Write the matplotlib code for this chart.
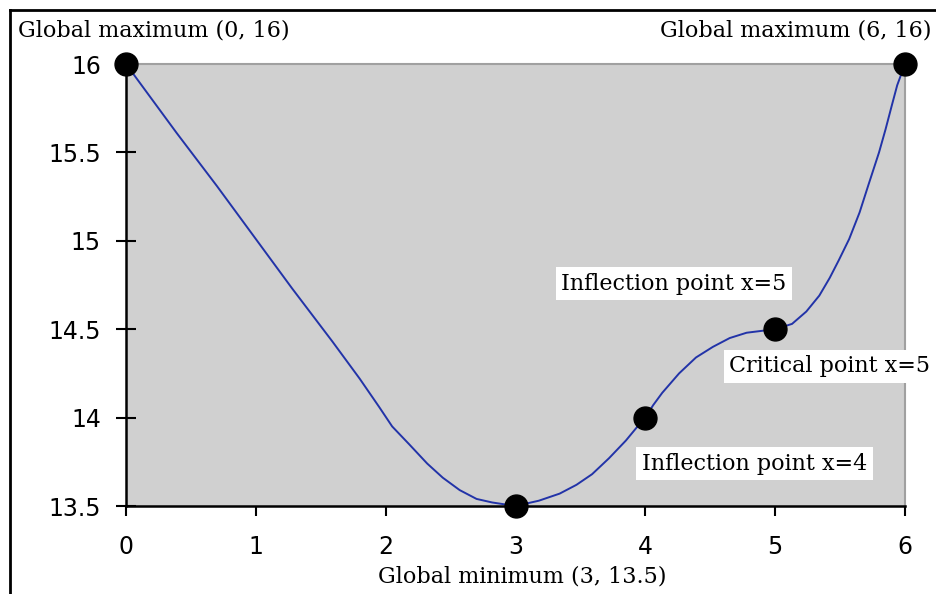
import numpy as np
import matplotlib.pyplot as plt
from matplotlib.lines import Line2D

# curve
x_curve = [0, 0.07, 0.39, 0.70, 0.99, 1.28, 1.59, 1.80, 1.95, 2.05, 2.18, 2.32, 2.44, 2.57,
           2.70, 2.82, 3.0, 3.18, 3.34, 3.47, 3.59, 3.72, 3.85, 3.94, 4.0, 4.06, 4.13, 4.26,
           4.39, 4.52, 4.65, 4.78, 5.0, 5.13, 5.24, 5.34, 5.42, 5.49, 5.57, 5.65, 5.72,
           5.80, 5.85, 5.90, 5.94, 6.0]
y_curve = [16.0, 15.93, 15.61, 15.31, 15.02, 14.73, 14.43, 14.22, 14.06, 13.95, 13.85, 13.74,
           13.66, 13.59, 13.54, 13.52, 13.50, 13.53, 13.57, 13.62, 13.68, 13.77, 13.87, 13.95,
           14.0, 14.07, 14.14, 14.25, 14.34, 14.40, 14.45, 14.48, 14.50, 14.53, 14.60, 14.69,
           14.79, 14.89, 15.01, 15.16, 15.32, 15.50, 15.63, 15.77, 15.88, 16.0]

# marked points
x_pts = [0, 3, 4, 5, 6]
y_pts = [16, 13.5, 14, 14.5, 16]

x_ticks = [0, 1, 2, 3, 4, 5, 6]
y_ticks = [13.5, 14, 14.5, 15, 15.5, 16]
y_ticklabels = ['13.5', '14', '14.5', '15', '15.5', '16']

serif = 'DejaVu Serif'
sans = 'DejaVu Sans'
fs = 16

fig = plt.figure(figsize=(9.36, 5.94), dpi=100)
ax = fig.add_axes([126 / 936, 1 - 506 / 594, (905 - 126) / 936, (506 - 64) / 594])
ax.set_facecolor('#d0d0d0')
ax.set_xlim(0, 6)
ax.set_ylim(13.5, 16)

ax.plot(x_curve, y_curve, color='#2233a8', lw=1.4, zorder=2)
ax.plot(x_pts, y_pts, 'o', color='black', ms=16.5, clip_on=False, zorder=3)

ax.set_xticks(x_ticks)
ax.set_yticks(y_ticks)
ax.set_yticklabels(y_ticklabels)
ax.tick_params(width=1.5, labelsize=17)
ax.tick_params(axis='x', direction='out', length=7.5, pad=13.5)
ax.tick_params(axis='y', direction='inout', length=14.4, pad=10.8)
for lab in ax.get_xticklabels() + ax.get_yticklabels():
    lab.set_family(sans)

ax.spines['left'].set_linewidth(1.8)
ax.spines['bottom'].set_linewidth(1.8)
ax.spines['top'].set_color('#a0a0a0')
ax.spines['right'].set_color('#a0a0a0')
ax.spines['top'].set_linewidth(1.5)
ax.spines['right'].set_linewidth(1.5)

box = dict(facecolor='white', edgecolor='none', pad=4)
ax.text(-0.83, 16.19, 'Global maximum (0, 16)', family=serif, fontsize=fs,
        ha='left', va='center', clip_on=False)
ax.text(4.11, 16.19, 'Global maximum (6, 16)', family=serif, fontsize=fs,
        ha='left', va='center', clip_on=False)
ax.text(4.22, 14.756, 'Inflection point x=5', family=serif, fontsize=fs,
        ha='center', va='center', bbox=box)
ax.text(5.42, 14.29, 'Critical point x=5', family=serif, fontsize=fs,
        ha='center', va='center', bbox=box, clip_on=False)
ax.text(4.84, 13.74, 'Inflection point x=4', family=serif, fontsize=fs,
        ha='center', va='center', bbox=box)
ax.text(3.05, 13.10, 'Global minimum (3, 13.5)', family=serif, fontsize=fs,
        ha='center', va='center', clip_on=False)

# outer frame (cropped on right and bottom)
fig.add_artist(Line2D([10 / 936, 10 / 936], [0, 1 - 10 / 594], color='black', lw=2))
fig.add_artist(Line2D([10 / 936, 1], [1 - 10 / 594, 1 - 10 / 594], color='black', lw=2))

fig.savefig('out.png', dpi=100)
